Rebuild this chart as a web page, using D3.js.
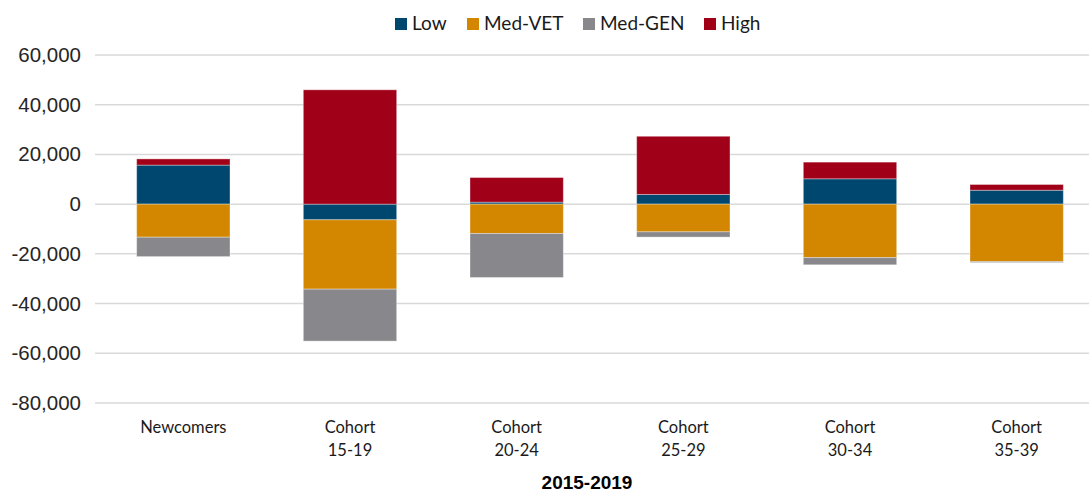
<!DOCTYPE html>
<html><head><meta charset="utf-8">
<script src="https://cdn.jsdelivr.net/npm/d3@7"></script>
<style>
html,body{margin:0;padding:0;background:#fff;}
svg{display:block;}
</style>
</head><body>
<svg id="chart" width="1089" height="493"></svg>
<script>
const categories = ["Newcomers", "Cohort 15-19", "Cohort 20-24", "Cohort 25-29", "Cohort 30-34", "Cohort 35-39"];
const tickLines = [["Newcomers"], ["Cohort", "15-19"], ["Cohort", "20-24"], ["Cohort", "25-29"], ["Cohort", "30-34"], ["Cohort", "35-39"]];
const seriesNames = ["Low", "Med-VET", "Med-GEN", "High"];
const low    = [15700, -6300, 800, 3900, 10200, 5600];
const medVet = [-13300, -27900, -11800, -11150, -21500, -23100];
const medGen = [-7800, -20900, -17700, -2100, -2900, -400];
const high   = [2500, 46000, 9900, 23400, 6700, 2300];
const yTicks = [-80000, -60000, -40000, -20000, 0, 20000, 40000, 60000];
const xTitle = "2015-2019";
const colors = ["#00476F", "#D38700", "#88878B", "#A10019"];

const svg = d3.select("#chart");
const table = categories.map((c, i) => ({cat: c, "Low": low[i], "Med-VET": medVet[i], "Med-GEN": medGen[i], "High": high[i]}));

const x = d3.scaleBand().domain(categories).range([100, 1100]).paddingInner(0.44).paddingOuter(0.22);
const y = d3.scaleLinear().domain([-80000, 60000]).range([403, 55]);
const color = d3.scaleOrdinal().domain(seriesNames).range(colors);
const fmt = d3.formatLocale({decimal: ".", thousands: ",", grouping: [3], currency: ["", ""], minus: "-"}).format(",");

// grid
svg.append("g").selectAll("line").data(yTicks).join("line")
  .attr("x1", 95).attr("x2", 1100)
  .attr("y1", d => y(d)).attr("y2", d => y(d))
  .attr("stroke", "#d9d9d9").attr("stroke-width", 1.5);

// y axis
const yAxis = svg.append("g").attr("transform", "translate(81,0)")
  .call(d3.axisLeft(y).tickValues(yTicks).tickSize(0).tickPadding(0).tickFormat(fmt));
yAxis.select(".domain").remove();
yAxis.selectAll("text").attr("font-family", "'Liberation Sans', Arial, sans-serif").attr("font-size", 20.5).attr("fill", "#262626");

// stacks
const stack = d3.stack().keys(seriesNames).offset(d3.stackOffsetDiverging);
const series = stack(table);
svg.append("g").selectAll("g").data(series).join("g")
  .attr("fill", d => color(d.key))
  .selectAll("rect").data(d => d).join("rect")
  .attr("x", d => x(d.data.cat))
  .attr("width", x.bandwidth())
  .attr("y", d => y(Math.max(d[0], d[1])))
  .attr("height", d => Math.abs(y(d[0]) - y(d[1])))
  .attr("stroke", "rgba(255,255,255,0.35)").attr("stroke-width", 1);

// x axis labels
const xAxis = svg.append("g").attr("transform", "translate(0,403)")
  .call(d3.axisBottom(x).tickSize(0).tickFormat(""));
xAxis.select(".domain").remove();
xAxis.selectAll(".tick").each(function(d, i) {
  const t = d3.select(this).append("text")
    .attr("fill", "#1a1a1a").attr("font-family", "Lato, sans-serif").attr("font-size", 16.5)
    .attr("text-anchor", "middle");
  tickLines[i].forEach((ln, j) => {
    t.append("tspan").attr("x", 0).attr("y", 30 + j * 22.5).text(ln);
  });
});

// x title
svg.append("text").attr("x", 587).attr("y", 489).attr("text-anchor", "middle")
  .attr("font-family", "'Liberation Sans', Arial, sans-serif").attr("font-weight", "bold")
  .attr("font-size", 19).attr("fill", "#000").text(xTitle);

// legend
const legendX = [395, 467, 583, 704];
const lg = svg.append("g").selectAll("g").data(seriesNames).join("g")
  .attr("transform", (d, i) => `translate(${legendX[i]},18)`);
lg.append("rect").attr("width", 12).attr("height", 12).attr("fill", d => color(d));
lg.append("text").attr("x", 17).attr("y", 11.5)
  .attr("font-family", "Lato, sans-serif").attr("font-size", 19).attr("fill", "#1a1a1a").text(d => d);
</script>
</body></html>
